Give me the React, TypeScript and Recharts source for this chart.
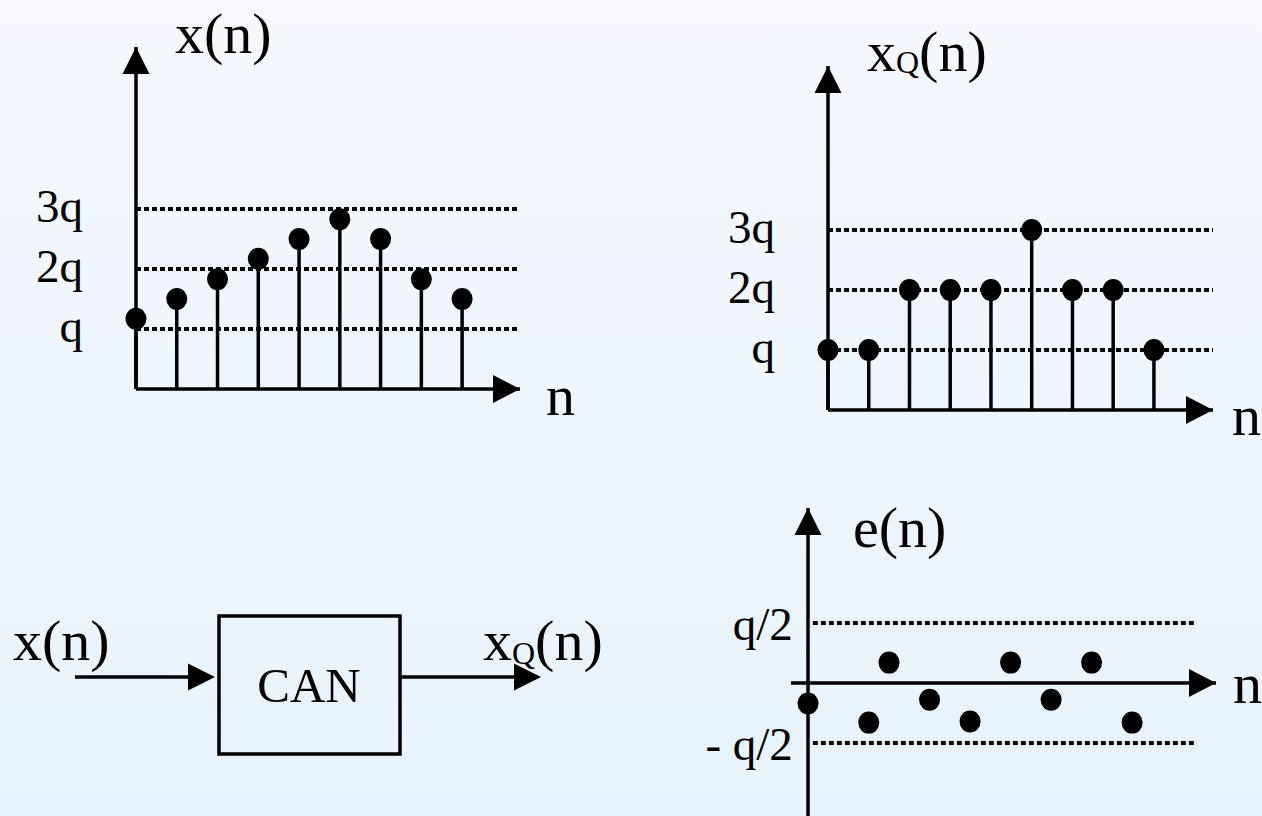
import React from 'react';
import { ComposedChart, Scatter, XAxis, YAxis, ReferenceLine, ReferenceDot } from 'recharts';

// samples n = 0..8, amplitudes in units of q
const sampleIndex = [0, 1, 2, 3, 4, 5, 6, 7, 8];
const analogValues = [1.17, 1.5, 1.83, 2.17, 2.5, 2.83, 2.5, 1.83, 1.5];
const quantizedValues = [1, 1, 2, 2, 2, 3, 2, 2, 1];
const errorIndex = [0, 1.5, 2, 3, 4, 5, 6, 7, 8];
const errorValues = [-0.17, -0.33, 0.17, -0.14, -0.32, 0.17, -0.14, 0.17, -0.33];
const levelTicks = [1, 2, 3];
const levelLabels = ['q', '2q', '3q'];
const errorLevels = [0.5, -0.5];
const errorLabels = ['q/2', '- q/2'];

const FONT = '"Liberation Serif", "Times New Roman", serif';
const INK = '#000';
const LW = 3.5;
const DOTTED = { stroke: INK, strokeWidth: 4, strokeDasharray: '5 3' };

const Dot = (props: any) => <ellipse cx={props.cx} cy={props.cy} rx={10.5} ry={11} fill={INK} />;
const UpArrow = (props: any) => (
  <polygon
    points={`${props.cx},${props.cy} ${props.cx - 13.5},${props.cy + 27} ${props.cx + 13.5},${props.cy + 27}`}
    fill={INK}
  />
);
const RightArrow = (props: any) => (
  <polygon
    points={`${props.cx},${props.cy} ${props.cx - 27},${props.cy - 14} ${props.cx - 27},${props.cy + 14}`}
    fill={INK}
  />
);

interface StemPlotProps {
  values: number[];
  left: number;
  top: number;
  width: number;
  height: number;
  axisX: number; // width reserved for the level labels
  margin: { top: number; right: number; bottom: number; left: number };
  xMax: number;
  yMax: number;
}

const StemPlot: React.FC<StemPlotProps> = ({ values, left, top, width, height, axisX, margin, xMax, yMax }) => {
  const data = sampleIndex.map((n, i) => ({ n, v: values[i] }));
  return (
    <div style={{ position: 'absolute', left, top }}>
      <ComposedChart width={width} height={height} data={data} margin={margin}>
        <XAxis
          type="number"
          dataKey="n"
          domain={[0, xMax]}
          ticks={sampleIndex}
          tick={false}
          tickSize={5}
          height={10}
          axisLine={{ stroke: INK, strokeWidth: LW }}
          tickLine={{ stroke: INK, strokeWidth: LW }}
        />
        <YAxis
          type="number"
          dataKey="v"
          domain={[0, yMax]}
          ticks={levelTicks}
          width={axisX}
          tickSize={0}
          tickMargin={53}
          tickFormatter={(v: number) => levelLabels[levelTicks.indexOf(v)]}
          tick={{ fill: INK, fontSize: 47, fontFamily: FONT, dy: -4 }}
          axisLine={{ stroke: INK, strokeWidth: LW }}
          tickLine={false}
        />
        {levelTicks.map((k) => (
          <ReferenceLine key={`lvl-${k}`} y={k} {...DOTTED} />
        ))}
        {data.map((d) => (
          <ReferenceLine
            key={`stem-${d.n}`}
            segment={[{ x: d.n, y: 0 }, { x: d.n, y: d.v }]}
            stroke={INK}
            strokeWidth={LW}
            ifOverflow="visible"
          />
        ))}
        <ReferenceDot x={0} y={yMax} shape={UpArrow} ifOverflow="visible" />
        <ReferenceDot x={xMax} y={0} shape={RightArrow} ifOverflow="visible" />
        <Scatter data={data} dataKey="v" shape={Dot} isAnimationActive={false} />
      </ComposedChart>
    </div>
  );
};

const ErrorPlot: React.FC = () => {
  const data = errorIndex.map((n, i) => ({ n, e: errorValues[i] }));
  const xMin = -0.42;
  const xMax = 10.07;
  const yMin = -1.108;
  const yMax = 1.458;
  return (
    <div style={{ position: 'absolute', left: 680, top: 470 }}>
      <ComposedChart width={582} height={346} data={data} margin={{ top: 38, right: 46, bottom: 0, left: 111 }}>
        <XAxis type="number" dataKey="n" domain={[xMin, xMax]} hide />
        <YAxis type="number" dataKey="e" domain={[yMin, yMax]} hide />
        {errorLevels.map((k, i) => (
          <ReferenceLine
            key={`err-${k}`}
            segment={[{ x: 0.12, y: k }, { x: 9.6, y: k }]}
            {...DOTTED}
            label={{
              value: errorLabels[i],
              position: 'left',
              offset: 20,
              fill: INK,
              fontSize: 47,
              fontFamily: FONT,
            }}
          />
        ))}
        <ReferenceLine x={0} stroke={INK} strokeWidth={LW} />
        <ReferenceLine y={0} stroke={INK} strokeWidth={LW} />
        <ReferenceDot x={0} y={yMax} shape={UpArrow} ifOverflow="visible" />
        <ReferenceDot x={xMax} y={0} shape={RightArrow} ifOverflow="visible" />
        <Scatter data={data} dataKey="e" shape={Dot} isAnimationActive={false} />
      </ComposedChart>
    </div>
  );
};

const Overlay: React.FC = () => {
  const big = { fontFamily: FONT, fontSize: 58, fill: INK };
  return (
    <svg width={1262} height={816} style={{ position: 'absolute', left: 0, top: 0, pointerEvents: 'none' }}>
      {/* titles and n labels */}
      <text x={175} y={53} {...big}>x(n)</text>
      <text x={867} y={71} {...big}>
        x<tspan fontSize={32} dy={2}>Q</tspan><tspan dy={-2}>(n)</tspan>
      </text>
      <text x={853} y={547} {...big}>e(n)</text>
      <text x={546} y={415} {...big}>n</text>
      <text x={1232} y={435} {...big}>n</text>
      <text x={1233} y={703} {...big}>n</text>

      {/* CAN block */}
      <line x1={75} y1={677} x2={192} y2={677} stroke={INK} strokeWidth={LW} />
      <polygon points="215,677 188,663.5 188,690.5" fill={INK} />
      <rect x={219} y={616} width={181} height={138} fill="none" stroke={INK} strokeWidth={LW} />
      <line x1={400} y1={677} x2={518} y2={677} stroke={INK} strokeWidth={LW} />
      <polygon points="541,677 514,663.5 514,690.5" fill={INK} />
      <text x={309} y={702} textAnchor="middle" fontFamily={FONT} fontSize={49} fill={INK}>CAN</text>
      <text x={13} y={660} {...big}>x(n)</text>
      <text x={483} y={660} {...big}>
        x<tspan fontSize={32} dy={4}>Q</tspan><tspan dy={-4}>(n)</tspan>
      </text>
    </svg>
  );
};

export default function App() {
  return (
    <div
      style={{
        position: 'fixed',
        left: 0,
        top: 0,
        width: 1262,
        height: 816,
        overflow: 'hidden',
        background: 'linear-gradient(180deg, #f6f8fb 0%, #e6f3fd 100%)',
      }}
    >
      <StemPlot
        values={analogValues}
        left={0}
        top={0}
        width={620}
        height={440}
        axisX={136}
        margin={{ top: 47, right: 100, bottom: 41, left: 0 }}
        xMax={9.42}
        yMax={5.7}
      />
      <StemPlot
        values={quantizedValues}
        left={640}
        top={0}
        width={622}
        height={460}
        axisX={188}
        margin={{ top: 66, right: 49, bottom: 40, left: 0 }}
        xMax={9.45}
        yMax={5.733}
      />
      <ErrorPlot />
      <Overlay />
    </div>
  );
}
